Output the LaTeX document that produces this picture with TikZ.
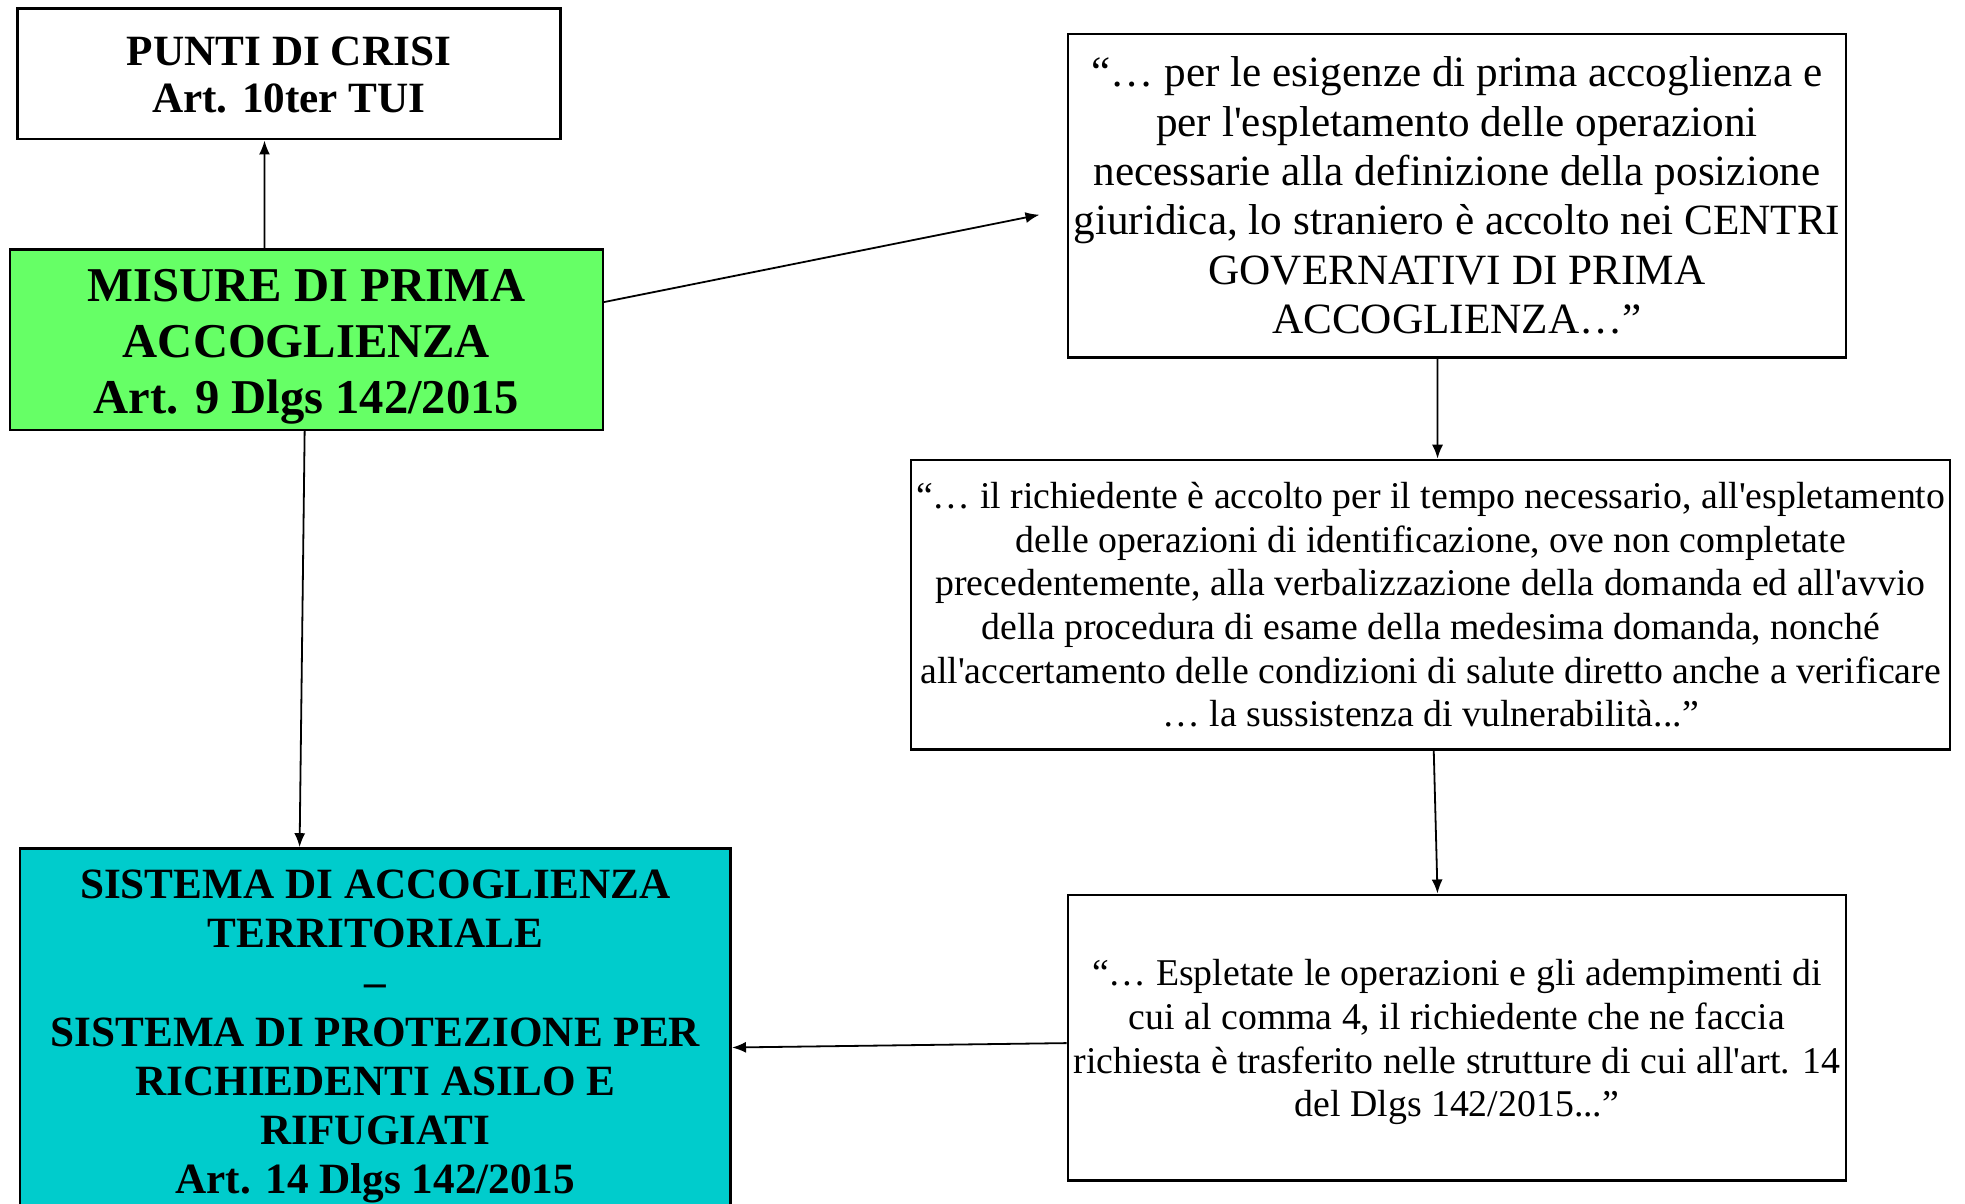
\documentclass[tikz,border=0pt]{standalone}
\usepackage{fontspec}
\setmainfont{Liberation Serif}[Ligatures=TeXOff]
\usetikzlibrary{arrows.meta}
\definecolor{boxgreen}{HTML}{66FF66}
\definecolor{boxcyan}{HTML}{00CCCC}
\newcommand\upad[1]{\rule{0pt}{#1}}
\begin{document}
\begin{tikzpicture}[x=0.5pt,y=-0.5pt,
  box/.style={draw=black, line width=1.3pt, align=center, inner sep=0pt, anchor=north west},
  bigbold/.style={font=\fontsize{21.6pt}{23.8pt}\selectfont\bfseries},
  titlebold/.style={font=\fontsize{24.3pt}{27.9pt}\selectfont\bfseries},
  quotebig/.style={font=\fontsize{21.6pt}{24.7pt}\selectfont},
  quotesmall/.style={font=\fontsize{18.9pt}{21.8pt}\selectfont},
  cyanbold/.style={font=\fontsize{21.6pt}{24.6pt}\selectfont\bfseries},
  arr/.style={line width=0.9pt, -{Latex[length=7pt,width=5.5pt]}}]
\useasboundingbox (0,0) rectangle (1965,1204);

\node[box, bigbold, minimum width=271.3pt, minimum height=65.2pt] (punti) at (16.3,7.5)
  {\upad{15.5pt}PUNTI DI CRISI\\Art. 10ter TUI};

\node[box, titlebold, fill=boxgreen, minimum width=296.35pt, minimum height=90.25pt] (misure) at (8.8,248.1)
  {\upad{23pt}MISURE DI PRIMA\\ACCOGLIENZA\\Art. 9 Dlgs 142/2015};

\node[box, quotebig, minimum width=389.1pt, minimum height=161.65pt] (top) at (1066.5,32.6)
  {“… per le esigenze di prima accoglienza e\\per l'espletamento delle operazioni\\necessarie alla definizione della posizione\\giuridica, lo straniero è accolto nei CENTRI\\GOVERNATIVI DI PRIMA\\ACCOGLIENZA…”};

\node[box, quotesmall, minimum width=519.45pt, minimum height=144.75pt] (mid) at (909.8,458.7)
  {“… il richiedente è accolto per il tempo necessario, all'espletamento\\delle operazioni di identificazione, ove non completate\\precedentemente, alla verbalizzazione della domanda ed all'avvio\\della procedura di esame della medesima domanda, nonché\\all'accertamento delle condizioni di salute diretto anche a verificare\\… la sussistenza di vulnerabilità...”};

\node[box, quotesmall, minimum width=389.1pt, minimum height=142.9pt] (bot) at (1066.5,893.5)
  {\upad{17.6pt}“… Espletate le operazioni e gli adempimenti di\\cui al comma 4, il richiedente che ne faccia\\richiesta è trasferito nelle strutture di cui all'art. 14\\del Dlgs 142/2015...”};

\node[box, cyanbold, fill=boxcyan, minimum width=355.3pt, minimum height=183pt] (sist) at (18.8,847.2)
  {\upad{19.3pt}SISTEMA DI ACCOGLIENZA\\TERRITORIALE\\–\\SISTEMA DI PROTEZIONE PER\\RICHIEDENTI ASILO E\\RIFUGIATI\\Art. 14 Dlgs 142/2015};

\draw[arr] ([xshift=-20.97pt]misure.north) -- ([xshift=-12.2pt]punti.south);
\draw[arr] ([yshift=18.8pt]misure.east) -- ([xshift=-13.5pt,yshift=-9.6pt]top.west);
\draw[arr] ([xshift=-9.7pt]top.south) -- ([xshift=3.5pt]mid.north);
\draw[arr] ([xshift=1.6pt]mid.south) -- ([xshift=-9.7pt]bot.north);
\draw[arr] ([yshift=-2.7pt]bot.west) -- ([yshift=-8pt]sist.east);
\draw[arr] ([xshift=-0.9pt]misure.south) -- ([xshift=-37.9pt]sist.north);
\end{tikzpicture}
\end{document}
